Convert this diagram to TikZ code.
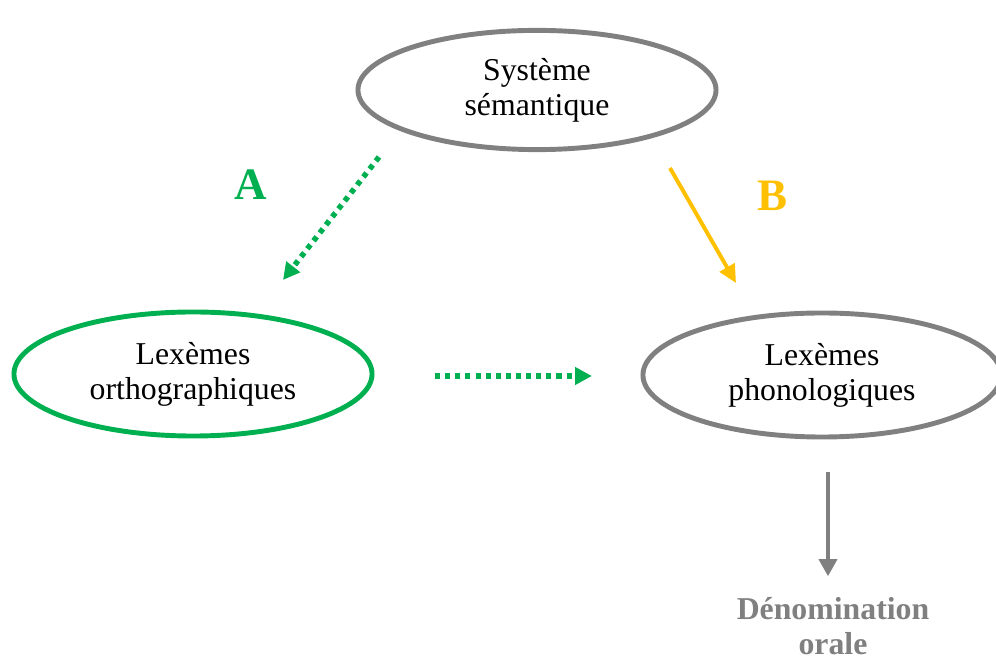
\documentclass[tikz,border=0pt]{standalone}
\usepackage{fontspec}
\setmainfont{Liberation Serif}
\usetikzlibrary{shapes.geometric}
\usetikzlibrary{arrows.meta}
\usetikzlibrary{positioning}
\definecolor{semgray}{RGB}{128,128,128}
\definecolor{orthgreen}{RGB}{0,176,80}
\definecolor{phonyellow}{RGB}{255,192,0}

\begin{document}
\begin{tikzpicture}[x=0.025cm,y=-0.025cm,font=\fontsize{22.6}{25}\selectfont,
	lexbox/.style={ellipse,minimum width=8.95cm,minimum height=3.1cm,line width=3.5pt,align=center,outer sep=0pt},
	dotarrow/.style={-{Triangle[length=0.42cm,width=0.42cm]},orthgreen,line width=3.9pt,dash pattern=on 3.6pt off 3.6pt},
	bigletter/.style={font=\fontsize{32}{38}\selectfont\bfseries}]
	\useasboundingbox (0,0) rectangle (996,661);

	\node [lexbox,draw=semgray,minimum height=2.98cm] at (537,90) (sem) {Système\\sémantique};
	\node [lexbox,draw=orthgreen] at (193,374) (ortho) {Lexèmes\\orthographiques};
	\node [lexbox,draw=semgray] at (822,375) (phono) {Lexèmes\\phonologiques};

	\node [bigletter,text=orthgreen] at (251,185) (lbl_a) {A};
	\node [bigletter,text=phonyellow] at (773,196) (lbl_b) {B};

	\node [font=\fontsize{22.6}{25}\selectfont\bfseries,text=semgray,align=center] at (833,626) (denom) {Dénomination\\orale};

	% arrow ends
	\coordinate (a_from) at (379,157);
	\coordinate (a_to) at (283,280);
	\coordinate (b_from) at (670,168);
	\coordinate (b_to) at (736,283);
	\coordinate (op_from) at (435,376);
	\coordinate (op_to) at (592,376);
	\coordinate (den_from) at (828,472);

	\draw[dotarrow] (a_from) -- (a_to);
	\draw[dotarrow] (op_from) -- (op_to);
	\draw[-{Triangle[length=0.45cm,width=0.42cm]},phonyellow,line width=2.8pt] (b_from) -- (b_to);
	\draw[-{Triangle[length=0.43cm,width=0.45cm]},semgray,line width=2.8pt,shorten >=0.4cm] (den_from) -- (den_from|-denom.north);
\end{tikzpicture}
\end{document}
